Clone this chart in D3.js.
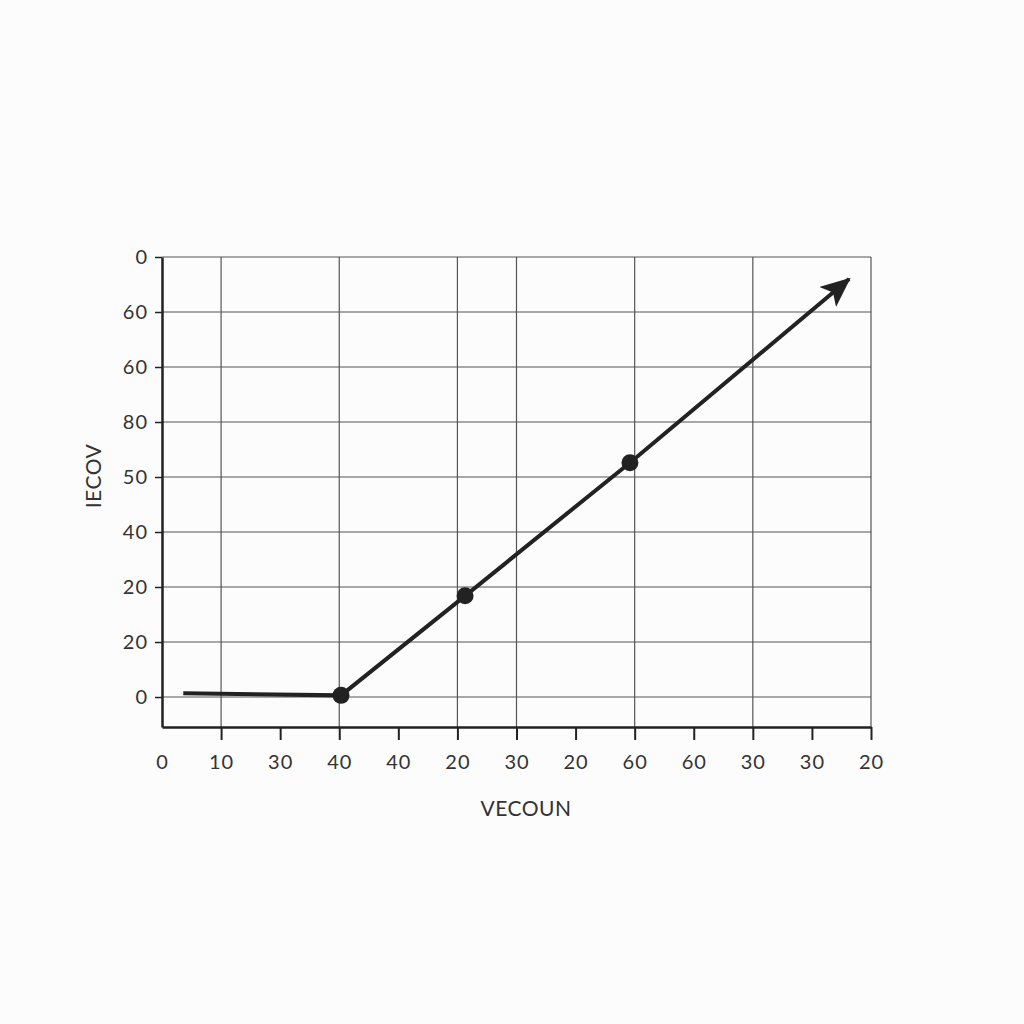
<!DOCTYPE html>
<html>
<head>
<meta charset="utf-8">
<script src="https://cdn.jsdelivr.net/npm/d3@7"></script>
<style>
  body { margin: 0; background: #fcfcfc; }
  svg { display: block; }
  .axis text { font-family: Lato, 'Noto Sans', sans-serif; font-size: 20px; letter-spacing: 1px; fill: #333; }
  .title { font-family: Lato, 'Noto Sans', sans-serif; font-size: 21px; letter-spacing: 0.5px; fill: #333; }
</style>
</head>
<body>
<div id="chart"></div>
<script>
// tick labels, as printed on the chart
var xTickLabels = ['0', '10', '30', '40', '40', '20', '30', '20', '60', '60', '30', '30', '20'];
var yTickLabels = ['0', '20', '20', '40', '50', '80', '60', '60', '0']; // bottom -> top
var xGridAt = [1, 3, 5, 6, 8, 10, 12];

// the line (in tick-index units), last point is the arrow tip
var lineX = [0.36, 3.03, 5.13, 7.92, 11.63];
var lineY = [0.07, 0.03, 1.84, 4.26, 7.6];
var dotIdx = [1, 2, 3];

var width = 1024,
    height = 1024;

var svg = d3.select('#chart')
    .append('svg')
    .attr('width', width)
    .attr('height', height);

var x = d3.scaleLinear().domain([0, 12]).range([162, 871]);
var y = d3.scaleLinear().domain([-0.545, 8]).range([727, 257]);

// grid
svg.append('g')
    .selectAll('line')
    .data(d3.range(yTickLabels.length))
    .enter().append('line')
    .attr('x1', x(0)).attr('x2', x(12))
    .attr('y1', d => y(d)).attr('y2', d => y(d))
    .style('stroke', '#555').style('stroke-width', 1.2);

svg.append('g')
    .selectAll('line')
    .data(xGridAt)
    .enter().append('line')
    .attr('x1', d => x(d)).attr('x2', d => x(d))
    .attr('y1', y(8)).attr('y2', y.range()[0])
    .style('stroke', '#555').style('stroke-width', 1.2);

// axes
var xAxis = d3.axisBottom(x)
    .tickValues(d3.range(xTickLabels.length))
    .tickFormat(i => xTickLabels[i])
    .tickSize(13)
    .tickSizeOuter(0)
    .tickPadding(15);

var yAxis = d3.axisLeft(y)
    .tickValues(d3.range(yTickLabels.length))
    .tickFormat(i => yTickLabels[i])
    .tickSize(7)
    .tickSizeOuter(0)
    .tickPadding(7);

var gx = svg.append('g')
    .attr('class', 'x axis')
    .attr('transform', `translate(0,${y.range()[0]})`)
    .call(xAxis);
gx.select('.domain').style('stroke', '#222').style('stroke-width', 2.5);
gx.selectAll('.tick line').style('stroke', '#222').style('stroke-width', 2);
gx.selectAll('.tick').filter(d => d === 0).select('line').remove();

var gy = svg.append('g')
    .attr('class', 'y axis')
    .attr('transform', `translate(${x(0)},0)`)
    .call(yAxis);
gy.select('.domain').style('stroke', '#222').style('stroke-width', 2.5);
gy.selectAll('.tick line').style('stroke', '#222').style('stroke-width', 1.5);

// axis titles
svg.append('text')
    .attr('class', 'title')
    .attr('x', 526)
    .attr('y', 816)
    .attr('text-anchor', 'middle')
    .text('VECOUN');

svg.append('text')
    .attr('class', 'title')
    .attr('transform', 'translate(101,476) rotate(-90)')
    .attr('text-anchor', 'middle')
    .text('IECOV');

// arrow head
svg.append('defs').append('marker')
    .attr('id', 'arrow')
    .attr('viewBox', '0 0 30 26')
    .attr('refX', 28)
    .attr('refY', 13)
    .attr('markerWidth', 30)
    .attr('markerHeight', 26)
    .attr('markerUnits', 'userSpaceOnUse')
    .attr('orient', 'auto')
    .append('path')
    .attr('d', 'M0,0 L30,13 L0,26 L7,13 Z')
    .style('fill', '#222');

var pts = lineX.map((d, i) => [d, lineY[i]]);

var line = d3.line()
    .x(d => x(d[0]))
    .y(d => y(d[1]));

svg.append('path')
    .datum(pts)
    .attr('d', line)
    .attr('marker-end', 'url(#arrow)')
    .style('fill', 'none')
    .style('stroke', '#222')
    .style('stroke-width', 4);

svg.append('g')
    .selectAll('circle')
    .data(dotIdx)
    .enter().append('circle')
    .attr('cx', i => x(lineX[i]))
    .attr('cy', i => y(lineY[i]))
    .attr('r', 8.5)
    .style('fill', '#222');
</script>
</body>
</html>
